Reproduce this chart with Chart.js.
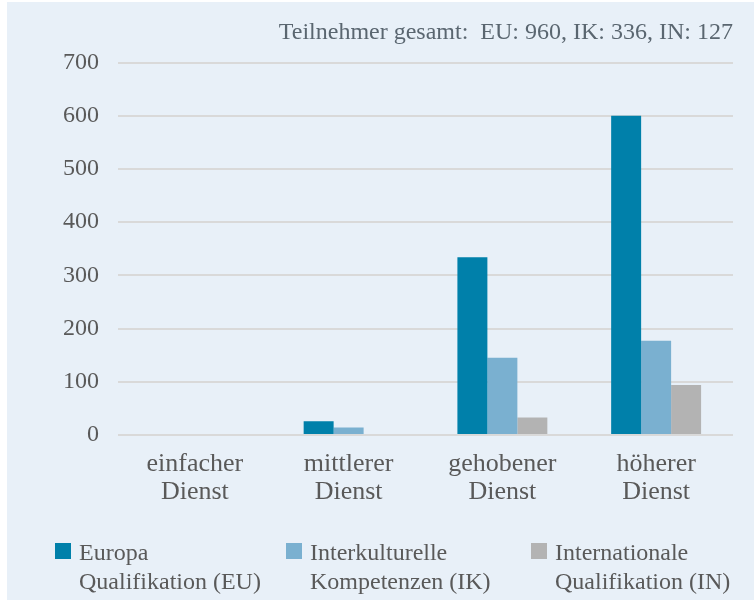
<!DOCTYPE html>
<html>
<head>
<meta charset="utf-8">
<script src="https://cdn.jsdelivr.net/npm/chart.js@4/dist/chart.umd.min.js"></script>
<style>
  html, body { margin: 0; padding: 0; background: #ffffff; }
  #wrap { width: 754px; height: 608px; position: relative; }
</style>
</head>
<body>
<div id="wrap"><canvas id="laufbahnChart"></canvas></div>
<script>
const categories = [["einfacher", "Dienst"], ["mittlerer", "Dienst"], ["gehobener", "Dienst"], ["höherer", "Dienst"]];
const seriesNames = [["Europa", "Qualifikation (EU)"], ["Interkulturelle", "Kompetenzen (IK)"], ["Internationale", "Qualifikation (IN)"]];
const euValues = [0, 26, 334, 600];
const ikValues = [0, 14, 145, 177];
const inValues = [0, 0, 33, 94];
const yTicks = [0, 100, 200, 300, 400, 500, 600, 700];
const titleText = "Teilnehmer gesamt:  EU: 960, IK: 336, IN: 127";

const textColor = "#595959";
const fontFamily = "'Liberation Serif', 'DejaVu Serif', serif";

// light blue panel behind the chart
const panelBg = {
    id: "panelBg",
    beforeDraw(chart) {
        const ctx = chart.ctx;
        ctx.save();
        ctx.fillStyle = "#e8f0f8";
        ctx.fillRect(7, 2, chart.width - 7, 598);
        ctx.restore();
    }
};

// two-line legend under the axis (the built-in one can't size multi-line items)
const legendX = [55, 286, 531];
const twoLineLegend = {
    id: "twoLineLegend",
    afterDraw(chart) {
        const ctx = chart.ctx;
        ctx.save();
        ctx.font = "24px " + fontFamily;
        ctx.textBaseline = "alphabetic";
        ctx.textAlign = "left";
        chart.data.datasets.forEach((ds, i) => {
            const x = legendX[i];
            ctx.fillStyle = ds.backgroundColor;
            ctx.fillRect(x, 543, 16, 16);
            ctx.fillStyle = textColor;
            ds.label.forEach((line, j) => {
                ctx.fillText(line, x + 24, 560 + j * 29);
            });
        });
        ctx.restore();
    }
};

const ctx = document.getElementById("laufbahnChart").getContext("2d");

new Chart(ctx, {
    type: "bar",
    data: {
        labels: categories,
        datasets: [
            { label: seriesNames[0], data: euValues, backgroundColor: "#0080aa" },
            { label: seriesNames[1], data: ikValues, backgroundColor: "#7ab0d0" },
            { label: seriesNames[2], data: inValues, backgroundColor: "#b3b3b3" }
        ]
    },
    options: {
        responsive: true,
        maintainAspectRatio: false,
        animation: false,
        layout: { padding: { left: 0, right: 21, top: 0, bottom: 95 } },
        datasets: {
            bar: { categoryPercentage: 0.585, barPercentage: 1.0, borderWidth: 0 }
        },
        scales: {
            x: {
                grid: { display: false },
                border: { display: false },
                ticks: {
                    color: textColor,
                    padding: 7,
                    maxRotation: 0,
                    font: { family: fontFamily, size: 26, lineHeight: 1.08 }
                },
                afterFit(scale) { scale.height = 78; }
            },
            y: {
                min: 0,
                max: 700,
                afterBuildTicks(scale) { scale.ticks = yTicks.map(v => ({ value: v })); },
                grid: { color: "#d9d9d9", lineWidth: 2, drawTicks: false },
                border: { display: false },
                ticks: {
                    color: textColor,
                    padding: 19,
                    font: { family: fontFamily, size: 24 }
                },
                afterFit(scale) { scale.width = 118; }
            }
        },
        plugins: {
            title: {
                display: true,
                text: titleText,
                align: "end",
                color: "#5a6670",
                padding: { top: 19, bottom: 16 },
                font: { family: fontFamily, size: 24, weight: "normal", lineHeight: 1.15 }
            },
            legend: { display: false },
            tooltip: { enabled: false }
        }
    },
    plugins: [panelBg, twoLineLegend]
});
</script>
</body>
</html>
